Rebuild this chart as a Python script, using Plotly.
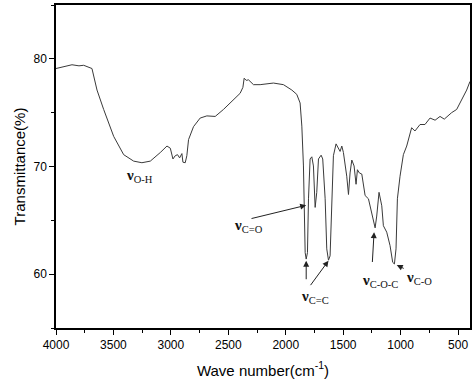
import plotly.graph_objects as go

wavenumber = [4000, 3930, 3861, 3800, 3759, 3687, 3643, 3585, 3498, 3411, 3324, 3252, 3179, 3092, 3034,
              3005, 2982, 2962, 2942, 2924, 2904, 2895, 2875, 2861, 2846, 2803, 2745, 2687, 2614, 2542,
              2455, 2397, 2373, 2362, 2344, 2324, 2281, 2223, 2107, 2020, 1947, 1904, 1875, 1860, 1846,
              1840, 1831, 1822, 1811, 1802, 1788, 1773, 1759, 1744, 1730, 1715, 1692, 1678, 1657, 1643,
              1628, 1614, 1599, 1585, 1562, 1541, 1527, 1512, 1498, 1469, 1454, 1440, 1425, 1405, 1388,
              1376, 1359, 1338, 1309, 1280, 1251, 1222, 1208, 1188, 1164, 1150, 1121, 1092, 1069, 1054,
              1040, 1028, 1005, 976, 947, 904, 875, 831, 788, 744, 700, 657, 620, 599, 556, 512, 469, 425, 396]
transmittance = [79.1, 79.25, 79.45, 79.35, 79.4, 79.1, 77.1, 75.3, 72.8, 71.1, 70.5, 70.35, 70.5, 71.3, 71.9,
                 71.7, 70.7, 71.0, 71.1, 70.8, 71.2, 70.4, 70.35, 71.0, 72.5, 73.7, 74.5, 74.7, 74.65, 75.3,
                 76.2, 76.8, 77.35, 78.2, 78.0, 78.05, 77.6, 77.6, 77.75, 77.6, 77.1, 76.7, 75.9, 73.75, 70.05,
                 65.4, 62.0, 61.4, 62.0, 67.0, 70.7, 70.9, 70.05, 66.2, 67.6, 70.7, 71.05, 70.7, 67.0, 62.35,
                 61.3, 61.7, 67.0, 71.0, 72.1, 71.7, 71.4, 71.9, 71.3, 69.1, 67.4, 69.4, 70.6, 70.05, 68.35,
                 69.7, 69.4, 69.3, 67.3, 67.0, 65.7, 64.3, 65.4, 67.6, 66.35, 64.5, 63.9, 62.65, 61.1, 60.95,
                 62.35, 67.0, 69.1, 71.1, 71.9, 73.6, 73.3, 73.9, 73.9, 74.5, 74.3, 74.65, 74.4, 74.6, 75.0, 75.3, 76.2, 77.1, 77.9]

x_ticks = [4000, 3500, 3000, 2500, 2000, 1500, 1000, 500]
y_ticks = [60, 70, 80]

labels = ["ν<sub>O-H</sub>", "ν<sub>C=O</sub>", "ν<sub>C=C</sub>", "ν<sub>C-O-C</sub>", "ν<sub>C-O</sub>"]
label_x = [3272, 2324, 1744, 1179, 837]
label_y = [69.1, 64.5, 57.9, 59.4, 59.6]

arrow_tip_x = [1822, 1822, 1628, 1231, 1034]
arrow_tip_y = [66.4, 61.25, 61.25, 63.9, 60.85]
arrow_tail_x = [2324, 1822, 1810, 1251, 947]
arrow_tail_y = [65.1, 58.6, 58.6, 60.2, 60.4]

fig = go.Figure()
fig.add_trace(go.Scatter(x=wavenumber, y=transmittance, mode="lines",
                         line=dict(color="#3a3a3a", width=1), showlegend=False))

for t, x, y in zip(labels, label_x, label_y):
    parts = t.split("<sub>")
    txt = "<b>" + parts[0] + "</b><sub>" + parts[1]
    fig.add_annotation(x=x, y=y, text=txt, showarrow=False,
                       font=dict(family="Liberation Serif", size=15, color="#111"))

for tx, ty, ax, ay in zip(arrow_tip_x, arrow_tip_y, arrow_tail_x, arrow_tail_y):
    fig.add_annotation(x=tx, y=ty, ax=ax, ay=ay, axref="x", ayref="y", xref="x", yref="y",
                       text=" ", showarrow=True, arrowhead=2, arrowsize=1.2, arrowwidth=1,
                       arrowcolor="#222")

fig.update_xaxes(range=[4000, 396], tickvals=x_ticks, showline=True, linecolor="black", linewidth=1.5,
                 mirror=True, ticks="outside", ticklen=5, tickwidth=1.2, tickcolor="black",
                 showgrid=False, zeroline=False, automargin=False,
                 minor=dict(dtick=250, tick0=0, ticks="outside", ticklen=3, tickcolor="black"),
                 tickfont=dict(family="Liberation Sans", size=12, color="black"),
                 title=dict(text="Wave number(cm<sup>-1</sup>)", standoff=14,
                            font=dict(family="Liberation Sans", size=15, color="black")))
fig.update_yaxes(range=[55, 85], tickvals=y_ticks, showline=True, linecolor="black", linewidth=1.5,
                 mirror=True, ticks="outside", ticklen=5, tickwidth=1.2, tickcolor="black",
                 showgrid=False, zeroline=False, automargin=False,
                 minor=dict(dtick=5, tick0=0, ticks="outside", ticklen=3, tickcolor="black"),
                 tickfont=dict(family="Liberation Sans", size=12, color="black"),
                 title=dict(text="Transmittance(%)", standoff=4,
                            font=dict(family="Liberation Sans", size=15, color="black")))
fig.update_layout(width=474, height=385, margin=dict(l=56, r=4, t=5, b=57),
                  plot_bgcolor="white", paper_bgcolor="white")
fig.write_html("out.html", config={"displayModeBar": False},
               post_script="document.body.style.margin='0';document.body.style.overflow='hidden';")
